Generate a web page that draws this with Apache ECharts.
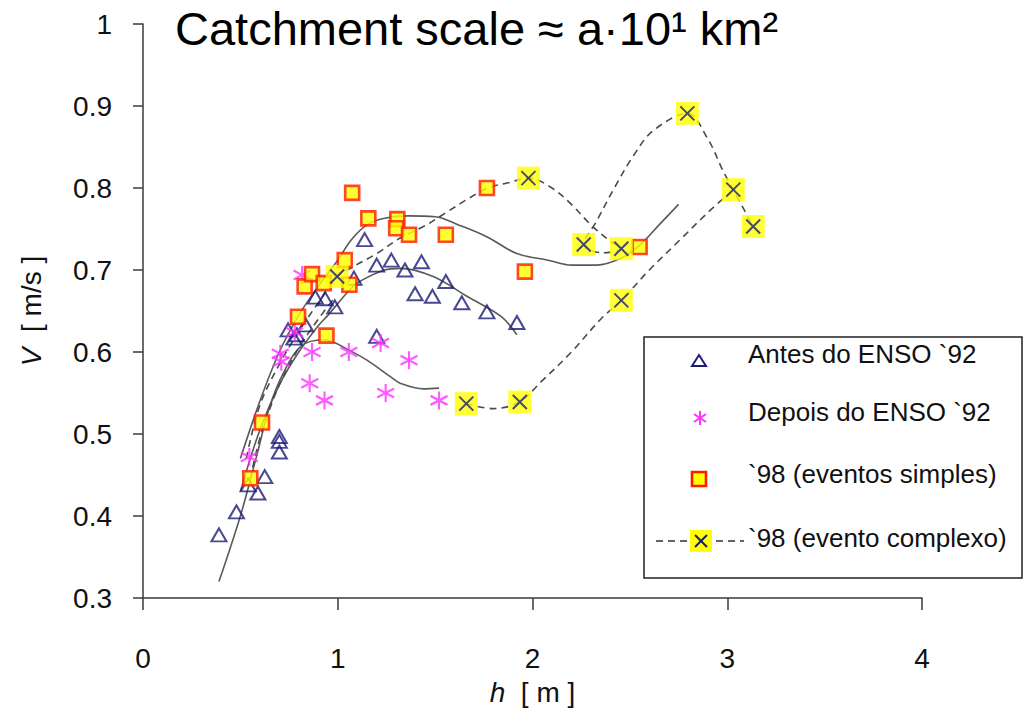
<!DOCTYPE html>
<html><head><meta charset="utf-8">
<script src="https://cdn.jsdelivr.net/npm/echarts@6/dist/echarts.min.js"></script>
<style>html,body{margin:0;padding:0;background:#fff}#c{width:1027px;height:717px}</style>
</head><body><div id="c"></div>
<script>
// ---- data (h [m], V [m/s]) ----
const titleText = 'Catchment scale ≈ a·10¹ km²';
const legendNames = ['Antes do ENSO `92', 'Depois do ENSO `92', '`98 (eventos simples)', '`98 (evento complexo)'];

const antes = [[0.39,0.377],[0.48,0.405],[0.54,0.438],[0.59,0.428],[0.625,0.448],[0.70,0.497],[0.70,0.491],[0.70,0.478],
  [0.745,0.627],[0.775,0.617],[0.79,0.621],[0.835,0.633],[0.885,0.667],[0.935,0.665],[0.985,0.655],[1.083,0.690],
  [1.138,0.737],[1.20,0.706],[1.275,0.712],[1.345,0.700],[1.43,0.710],[1.397,0.671],[1.486,0.668],[1.555,0.686],
  [1.637,0.660],[1.766,0.649],[1.920,0.636],[1.20,0.619]];
const depois = [[0.546,0.472],[0.705,0.598],[0.71,0.588],[0.779,0.624],[0.817,0.694],[0.856,0.562],[0.868,0.600],
  [0.932,0.541],[1.057,0.600],[1.22,0.611],[1.246,0.550],[1.366,0.590],[1.52,0.541]];
const simples = [[0.551,0.446],[0.611,0.514],[0.796,0.643],[0.830,0.680],[0.868,0.695],[0.928,0.684],[0.942,0.620],
  [1.036,0.712],[1.06,0.682],[1.074,0.794],[1.157,0.763],[1.306,0.762],[1.30,0.751],[1.366,0.743],[1.555,0.743],
  [1.766,0.800],[1.961,0.698],[2.55,0.728]];
const complexo = [[0.997,0.692],[1.979,0.812],[1.66,0.537],[1.935,0.539],[2.263,0.731],[2.456,0.726],[2.456,0.663],
  [2.795,0.891],[3.031,0.798],[3.133,0.753]];

// fitted curves (solid) and event loops (dashed)
const fitUpper = [[0.5,0.47],[0.6,0.54],[0.7,0.6],[0.8,0.645],[0.9,0.68],[1.0,0.712],[1.07,0.737],[1.15,0.755],[1.24,0.763],
  [1.36,0.766],[1.5,0.765],[1.62,0.755],[1.77,0.74],[1.92,0.72],[2.08,0.712],[2.2,0.706],[2.33,0.706],[2.45,0.714],
  [2.55,0.73],[2.65,0.755],[2.75,0.78]];
const fitAntes = [[0.5,0.43],[0.6,0.505],[0.7,0.56],[0.8,0.60],[0.9,0.632],[0.95,0.645],[1.07,0.678],[1.12,0.687],
  [1.24,0.70],[1.32,0.702],[1.49,0.692],[1.67,0.667],[1.84,0.643],[1.92,0.621]];
const fitDepois = [[0.39,0.32],[0.5,0.40],[0.58,0.47],[0.65,0.533],[0.72,0.574],[0.81,0.607],[0.93,0.615],[1.06,0.602],
  [1.15,0.59],[1.27,0.570],[1.32,0.562],[1.44,0.555],[1.52,0.556]];
const loopA = [[0.53,0.47],[0.6,0.535],[0.7,0.585],[0.8,0.625],[0.9,0.66],[1.0,0.692],[1.08,0.704],[1.2,0.72],[1.32,0.739],
  [1.44,0.753],[1.55,0.769],[1.67,0.787],[1.77,0.80],[1.87,0.806],[1.98,0.812],[2.1,0.80],[2.2,0.78],[2.3,0.755],
  [2.4,0.735],[2.456,0.726],[2.36,0.721],[2.263,0.731],[2.33,0.76],[2.42,0.80],[2.52,0.84],[2.62,0.87],[2.795,0.891],
  [2.9,0.86],[2.98,0.82],[3.031,0.798],[3.133,0.753]];
const loopB = [[1.658,0.537],[1.8,0.531],[1.932,0.539],[2.05,0.565],[2.2,0.60],[2.35,0.64],[2.456,0.663],[2.6,0.70],
  [2.75,0.735],[2.9,0.77],[3.031,0.798]];
const loopC = [[0.55,0.445],[0.6,0.495],[0.65,0.53],[0.7,0.56],[0.8,0.605],[0.9,0.64],[0.98,0.665]];

const xTicks = {min:0, max:4, step:1};
const yTicks = {min:0.3, max:1, step:0.1};

// ---- chart ----
const FONT = '"Liberation Sans", Arial, sans-serif';
const navy = '#1c1c78', pink = '#ff33ff', red = '#ff1a00', yellow = '#ffff00';
const asteriskPath = 'path://M5,0L5,10M0.67,2.5L9.33,7.5M0.67,7.5L9.33,2.5';
const xPath = 'path://M0,0L10,10M10,0L0,10';

const chart = echarts.init(document.getElementById('c'), null, {renderer:'svg'});
function curve(name, data, dashed){
  return {type:'line', name, data, showSymbol:false, smooth:0.35, silent:true, z:1,
    lineStyle:{color: dashed ? '#4a4a4a' : '#5a5a5a', width:1.6, type: dashed ? [7,5] : 'solid'}};
}
const nameRich = {i:{fontFamily:FONT, fontSize:28, fontStyle:'italic', color:'#111'}, n:{fontFamily:FONT, fontSize:28, color:'#111'}};
chart.setOption({
  backgroundColor:'#fff',
  animation:false,
  title:{text:titleText, left:170, top:0, textStyle:{fontFamily:FONT, fontSize:47, fontWeight:'normal', color:'#000'}},
  grid:{left:143, right:105, top:24, bottom:119, containLabel:false, outerBoundsMode:'none'},
  xAxis:{type:'value', min:xTicks.min, max:xTicks.max, interval:xTicks.step,
    axisLine:{show:true, lineStyle:{color:'#3a3a3a', width:1.5}},
    axisTick:{show:true, length:12, lineStyle:{color:'#3a3a3a', width:1.5}},
    splitLine:{show:false},
    axisLabel:{fontFamily:FONT, fontSize:28, color:'#111', margin:46},
    name:'{i|h}{n|  [ m ]}', nameLocation:'middle', nameGap:80,
    nameTextStyle:{rich:nameRich}
  },
  yAxis:{type:'value', min:yTicks.min, max:yTicks.max, interval:yTicks.step,
    axisLine:{show:true, lineStyle:{color:'#3a3a3a', width:1.5}},
    axisTick:{show:true, length:10, lineStyle:{color:'#3a3a3a', width:1.5}},
    splitLine:{show:false},
    axisLabel:{fontFamily:FONT, fontSize:28, color:'#111', margin:31,
      formatter: v => String(Math.round(v*10)/10)},
    name:'{i|V}{n|  [ m/s ]}', nameLocation:'middle', nameGap:98, nameRotate:90,
    nameTextStyle:{rich:nameRich}
  },
  legend:{show:false},
  series:[
    curve('fitUpper', fitUpper, false),
    curve('fitAntes', fitAntes, false),
    curve('fitDepois', fitDepois, false),
    curve(legendNames[3]+' A', loopA, true),
    curve(legendNames[3]+' B', loopB, true),
    curve(legendNames[3]+' C', loopC, true),
    {type:'scatter', name:legendNames[0], data:antes, symbol:'triangle', symbolSize:[15,13], z:3,
      itemStyle:{color:'rgba(255,255,255,0)', borderColor:navy, borderWidth:2}},
    {type:'scatter', name:legendNames[1], data:depois, symbol:asteriskPath, symbolSize:[17,18], z:4,
      itemStyle:{color:'rgba(255,255,255,0)', borderColor:pink, borderWidth:2.2}},
    {type:'scatter', name:legendNames[2], data:simples, symbol:'rect', symbolSize:14, z:5,
      itemStyle:{color:yellow, borderColor:red, borderWidth:2.6}},
    {type:'scatter', name:legendNames[3], data:complexo, symbol:'rect', symbolSize:23, z:6,
      itemStyle:{color:yellow, borderWidth:0}},
    {type:'scatter', name:legendNames[3]+' x', data:complexo, symbol:xPath, symbolSize:14, z:7,
      itemStyle:{color:'rgba(255,255,255,0)', borderColor:navy, borderWidth:2}}
  ],
  graphic:[
    {type:'rect', z:100, shape:{x:644, y:337, width:378, height:241}, style:{fill:'#fff', stroke:'#222', lineWidth:1.5}},
    {type:'polygon', z:101, shape:{points:[[699,355],[706,366],[692,366]]}, style:{fill:'none', stroke:navy, lineWidth:2}},
    {type:'line', z:101, shape:{x1:700,y1:411,x2:700,y2:425}, style:{stroke:pink, lineWidth:2}},
    {type:'line', z:101, shape:{x1:694,y1:414,x2:706,y2:422}, style:{stroke:pink, lineWidth:2}},
    {type:'line', z:101, shape:{x1:694,y1:422,x2:706,y2:414}, style:{stroke:pink, lineWidth:2}},
    {type:'rect', z:101, shape:{x:692, y:472, width:14, height:14}, style:{fill:yellow, stroke:red, lineWidth:2.6}},
    {type:'line', z:101, shape:{x1:656,y1:541,x2:744,y2:541}, style:{stroke:'#333', lineWidth:1.6, lineDash:[7,5]}},
    {type:'rect', z:102, shape:{x:690, y:530, width:22, height:22}, style:{fill:yellow}},
    {type:'line', z:103, shape:{x1:695,y1:535,x2:707,y2:547}, style:{stroke:navy, lineWidth:2}},
    {type:'line', z:103, shape:{x1:707,y1:535,x2:695,y2:547}, style:{stroke:navy, lineWidth:2}},
    {type:'text', z:104, left:748, top:341, style:{text:legendNames[0], font:'26px '+FONT, fill:'#111'}},
    {type:'text', z:104, left:748, top:399, style:{text:legendNames[1], font:'26px '+FONT, fill:'#111'}},
    {type:'text', z:104, left:748, top:461, style:{text:legendNames[2], font:'26px '+FONT, fill:'#111'}},
    {type:'text', z:104, left:748, top:525, style:{text:legendNames[3], font:'26px '+FONT, fill:'#111'}}
  ]
});
</script></body></html>
